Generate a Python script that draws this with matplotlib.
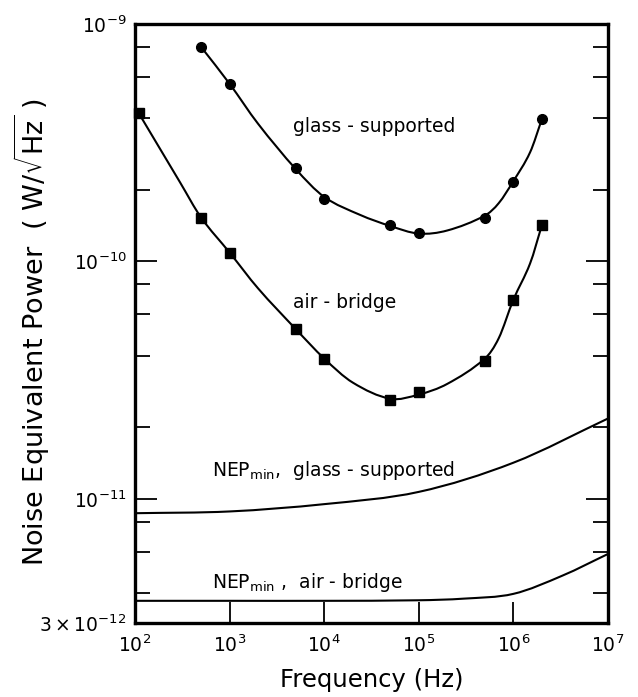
import matplotlib
matplotlib.use("Agg")
import matplotlib.pyplot as plt
from matplotlib.ticker import FixedLocator, NullFormatter, NullLocator
from matplotlib.path import Path
from matplotlib.patches import PathPatch
import numpy as np

# measured points
glass_x = [5e2, 1e3, 5e3, 1e4, 5e4, 1e5, 5e5, 1e6, 2e6]
glass_y = [8.0e-10, 5.6e-10, 2.47e-10, 1.83e-10, 1.43e-10, 1.32e-10, 1.52e-10, 2.15e-10, 3.97e-10]

air_x = [1.1e2, 5e2, 1e3, 5e3, 1e4, 5e4, 1e5, 5e5, 1e6, 2e6]
air_y = [4.2e-10, 1.53e-10, 1.09e-10, 5.2e-11, 3.9e-11, 2.6e-11, 2.83e-11, 3.82e-11, 6.9e-11, 1.42e-10]

# fitted curves
glass_fit_x = [5e2, 1e3, 2e3, 5e3, 1e4, 2.4e4, 5e4, 1e5, 2e5, 5e5, 7e5, 1e6, 1.5e6, 2e6]
glass_fit_y = [8.0e-10, 5.6e-10, 3.8e-10, 2.45e-10, 1.87e-10, 1.57e-10, 1.41e-10, 1.31e-10, 1.35e-10,
               1.56e-10, 1.76e-10, 2.18e-10, 2.88e-10, 3.97e-10]

air_fit_x = [1.1e2, 3e2, 5e2, 1e3, 2e3, 5e3, 1e4, 2e4, 5e4, 1e5, 2e5, 5e5, 7e5, 1e6, 1.5e6, 2e6]
air_fit_y = [4.2e-10, 2.15e-10, 1.53e-10, 1.09e-10, 7.7e-11, 5.19e-11, 3.9e-11, 3.09e-11, 2.64e-11,
             2.75e-11, 3.05e-11, 3.9e-11, 4.75e-11, 6.9e-11, 9.8e-11, 1.42e-10]

nep_glass_x = [1e2, 1e3, 1e4, 1e5, 1e6, 1e7]
nep_glass_y = [8.7e-12, 8.85e-12, 9.5e-12, 1.07e-11, 1.42e-11, 2.18e-11]

nep_air_x = [1e2, 1e3, 1e4, 1e5, 3e5, 1e6, 3.3e6, 1e7]
nep_air_y = [3.72e-12, 3.72e-12, 3.72e-12, 3.74e-12, 3.8e-12, 3.98e-12, 4.75e-12, 5.86e-12]

x_ticks = [1e2, 1e3, 1e4, 1e5, 1e6, 1e7]
x_labels = [r'$10^{2}$', r'$10^{3}$', r'$10^{4}$', r'$10^{5}$', r'$10^{6}$', r'$10^{7}$']
y_ticks = [3e-12, 1e-11, 1e-10, 1e-9]
y_labels = [r'$3\times10^{-12}$', r'$10^{-11}$', r'$10^{-10}$', r'$10^{-9}$']
y_minor = [4e-12, 6e-12, 8e-12, 2e-11, 4e-11, 6e-11, 8e-11, 2e-10, 4e-10, 6e-10, 8e-10]

plt.rcParams['mathtext.fontset'] = 'dejavusans'
plt.rcParams['font.family'] = 'DejaVu Sans'


def smooth_path(xs, ys):
    """Cubic Hermite (Bezier) path through the given points, built in log-log space."""
    lx = np.log10(np.asarray(xs, float))
    ly = np.log10(np.asarray(ys, float))
    n = len(lx)
    m = np.empty(n)
    for i in range(n):
        a = max(i - 1, 0)
        b = min(i + 1, n - 1)
        m[i] = (ly[b] - ly[a]) / (lx[b] - lx[a])
    verts = [(lx[0], ly[0])]
    codes = [Path.MOVETO]
    for i in range(n - 1):
        dx = lx[i + 1] - lx[i]
        verts.append((lx[i] + dx / 3, ly[i] + m[i] * dx / 3))
        verts.append((lx[i + 1] - dx / 3, ly[i + 1] - m[i + 1] * dx / 3))
        verts.append((lx[i + 1], ly[i + 1]))
        codes += [Path.CURVE4] * 3
    v = 10 ** np.array(verts)
    return Path(v, codes)


fig = plt.figure(figsize=(6.38, 6.97), dpi=100)
ax = fig.add_axes([135/638, 1-623/697, (608-135)/638, (623-24)/697])
ax.set_xscale('log')
ax.set_yscale('log')
ax.set_xlim(1e2, 1e7)
ax.set_ylim(3e-12, 1e-9)

lw = 1.5
for cx, cy in [(glass_fit_x, glass_fit_y), (air_fit_x, air_fit_y),
               (nep_glass_x, nep_glass_y), (nep_air_x, nep_air_y)]:
    ax.add_patch(PathPatch(smooth_path(cx, cy), fill=False, edgecolor='black', lw=lw,
                           capstyle='round', joinstyle='round'))

ax.plot(glass_x, glass_y, 'o', color='black', ms=7, clip_on=False)
ax.plot(air_x, air_y, 's', color='black', ms=6.5, clip_on=False)

ax.set_xticks(x_ticks)
ax.set_xticklabels(x_labels)
ax.xaxis.set_minor_locator(NullLocator())
ax.set_yticks(y_ticks)
ax.set_yticklabels(y_labels)
ax.yaxis.set_minor_locator(FixedLocator(y_minor))
ax.yaxis.set_minor_formatter(NullFormatter())

ax.tick_params(axis='both', which='both', direction='in', width=1.3, labelsize=13.5)
ax.tick_params(axis='y', which='major', length=16, right=True, pad=6)
ax.tick_params(axis='y', which='minor', length=11, right=True)
ax.tick_params(axis='x', which='major', length=15, top=False, pad=8)
for s in ax.spines.values():
    s.set_linewidth(2.4)

fs = 13.5
ax.text(293/638, 1-127/697, 'glass - supported', transform=fig.transFigure, fontsize=fs, va='center', ha='left')
ax.text(293/638, 1-302/697, 'air - bridge', transform=fig.transFigure, fontsize=fs, va='center', ha='left')
ax.text(212/638, 1-470/697, r'NEP$_{\mathrm{min}}$,  glass - supported', transform=fig.transFigure, fontsize=fs, va='center', ha='left')
ax.text(212/638, 1-582/697, r'NEP$_{\mathrm{min}}$ ,  air - bridge', transform=fig.transFigure, fontsize=fs, va='center', ha='left')

fig.text(372/638, 1-680/697, 'Frequency (Hz)', fontsize=17.5, ha='center', va='center')
fig.text(32/638, 1-332/697, r'Noise Equivalent Power  ( W/$\sqrt{\mathrm{Hz}}$ )', fontsize=19.5,
         ha='center', va='center', rotation=90)

fig.savefig('out.png', dpi=100)
